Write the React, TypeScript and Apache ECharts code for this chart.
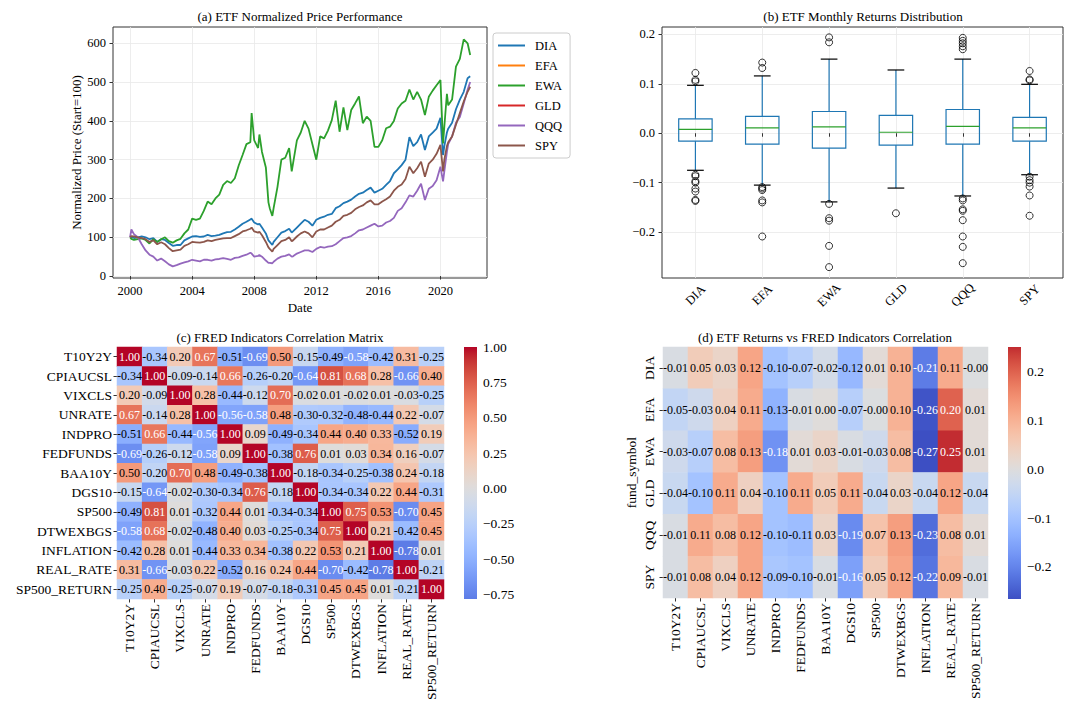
import React, { useEffect, useRef } from 'react';
import * as echarts from 'echarts';

const FONT = '"Liberation Serif", "Times New Roman", "DejaVu Serif", serif';

// ---------- (a) normalized prices ----------
const ETFS = ['DIA', 'EFA', 'EWA', 'GLD', 'QQQ', 'SPY'];
const ETF_COLORS = ['#1f77b4', '#ff7f0e', '#2ca02c', '#d62728', '#9467bd', '#8c564b'];

const DATES = [
  '2000-01', '2000-02', '2000-04', '2000-07', '2000-10',
  '2001-01', '2001-04', '2001-07', '2001-10',
  '2002-01', '2002-04', '2002-07', '2002-10',
  '2003-01', '2003-04', '2003-07', '2003-10',
  '2004-01', '2004-04', '2004-07', '2004-10',
  '2005-01', '2005-04', '2005-07', '2005-10',
  '2006-01', '2006-04', '2006-07', '2006-10',
  '2007-01', '2007-04', '2007-07', '2007-10', '2007-11',
  '2008-01', '2008-04', '2008-05', '2008-07', '2008-10', '2008-12',
  '2009-01', '2009-03', '2009-04', '2009-07', '2009-10',
  '2010-01', '2010-04', '2010-06', '2010-07', '2010-10',
  '2011-01', '2011-04', '2011-07', '2011-10',
  '2012-01', '2012-04', '2012-07', '2012-10',
  '2013-01', '2013-04', '2013-07', '2013-10',
  '2014-01', '2014-04', '2014-07', '2014-10',
  '2015-01', '2015-04', '2015-07', '2015-10',
  '2016-01', '2016-04', '2016-07', '2016-10',
  '2017-01', '2017-04', '2017-07', '2017-10',
  '2018-01', '2018-04', '2018-07', '2018-10',
  '2019-01', '2019-04', '2019-07', '2019-10',
  '2020-01', '2020-03', '2020-04', '2020-06', '2020-07', '2020-10',
  '2021-01', '2021-04', '2021-07', '2021-10', '2021-12',
];

const DIA = [
  100, 101, 98, 100, 102,
  100, 95, 98, 88,
  95, 93, 85, 78,
  80, 80, 92, 97,
  102, 103, 101, 102,
  106, 103, 104, 106,
  110, 113, 114, 120,
  127, 135, 140, 146, 148,
  138, 133, 135, 125, 110, 92,
  88, 80, 88, 100, 112,
  116, 122, 112, 115, 125,
  135, 145, 140, 130,
  145, 150, 153, 158,
  160, 175, 180, 188,
  192, 197, 205, 212,
  215, 222, 228, 215,
  220, 225, 235, 245,
  265, 275, 286, 300,
  358, 335, 345, 365,
  325, 360, 370, 380,
  408, 312, 335, 370, 380, 395,
  430, 455, 475, 510, 515,
];
const EFA: number[] = [];
const EWA = [
  100, 96, 93, 95, 97,
  93, 84, 95, 88,
  95, 100, 90, 86,
  92, 96, 110, 120,
  148, 145, 148, 168,
  192, 185, 200, 210,
  235, 245, 240, 252,
  285, 312, 340, 345, 420,
  350, 330, 365, 320, 280, 190,
  175, 155, 175, 230, 300,
  305, 330, 270, 290, 350,
  370, 400, 380, 340,
  300, 360, 355, 375,
  402, 452, 372, 435,
  376, 428, 445, 463,
  394, 411, 400, 333,
  333, 350, 381, 385,
  400, 432, 445, 452,
  481, 455, 475, 455,
  415, 462, 478, 492,
  505, 342, 385, 470, 440, 455,
  540, 560, 610, 600, 570,
];
const GLD: number[] = [];
const QQQ = [
  100, 120, 108, 100, 82,
  66, 55, 50, 40,
  45, 38, 30, 25,
  28, 32, 35, 38,
  42, 40, 38, 42,
  42, 40, 43, 44,
  46, 44, 42, 47,
  48, 52, 55, 60, 58,
  50, 52, 54, 50, 40, 34,
  34, 33, 37, 45, 50,
  52, 56, 50, 51, 58,
  62, 66, 66, 62,
  70, 75, 73, 76,
  77, 82, 90, 98,
  100, 103, 110, 118,
  120, 125, 130, 135,
  128, 130, 138, 142,
  150, 168, 175, 190,
  208, 205, 220, 238,
  196, 225, 232, 247,
  282, 244, 270, 320, 340, 360,
  395, 410, 445, 480, 500,
];
const SPY = [
  100, 103, 102, 100, 98,
  95, 88, 92, 82,
  87, 82, 72, 64,
  66, 68, 78, 82,
  88, 87, 86, 88,
  92, 90, 93, 95,
  97, 98, 98, 103,
  108, 115, 118, 122, 125,
  115, 112, 114, 105, 88, 74,
  70, 63, 70, 80, 90,
  93, 100, 90, 92, 102,
  110, 115, 110, 100,
  115, 120, 120, 125,
  130, 140, 145, 155,
  158, 163, 172, 178,
  182, 190, 195, 185,
  185, 192, 198, 205,
  220, 230, 236, 250,
  282, 265, 278, 295,
  256, 290, 300, 315,
  338, 270, 300, 335, 345, 360,
  390, 420, 450, 475, 488,
];
const PRICE_SERIES = [DIA, EFA, EWA, GLD, QQQ, SPY];
const YEAR_TICKS = [2000, 2004, 2008, 2012, 2016, 2020];
const PRICE_TICKS = [0, 100, 200, 300, 400, 500, 600];

// ---------- (b) monthly returns boxplot ----------
// [lower whisker, Q1, median, Q3, upper whisker]
const BOX_STATS = [
  [-0.075, -0.016, 0.008, 0.029, 0.097],
  [-0.105, -0.022, 0.011, 0.034, 0.116],
  [-0.139, -0.030, 0.013, 0.044, 0.150],
  [-0.111, -0.024, 0.002, 0.036, 0.128],
  [-0.127, -0.022, 0.014, 0.048, 0.150],
  [-0.084, -0.016, 0.011, 0.032, 0.099],
];
const OUTLIERS = [
  [0.122, 0.108, 0.105, -0.084, -0.087, -0.097, -0.100, -0.112, -0.118, -0.135, -0.137],
  [0.143, 0.132, -0.109, -0.112, -0.115, -0.136, -0.140, -0.209],
  [0.194, 0.184, -0.143, -0.172, -0.177, -0.228, -0.271],
  [-0.162],
  [0.193, 0.187, 0.182, 0.176, 0.170, -0.132, -0.136, -0.154, -0.157, -0.176, -0.209, -0.230, -0.263],
  [0.126, 0.109, 0.107, -0.088, -0.095, -0.100, -0.108, -0.126, -0.167],
];
const RET_TICKS = [-0.2, -0.1, 0, 0.1, 0.2];

// ---------- (c) FRED correlation ----------
const FRED_VARS = ['T10Y2Y', 'CPIAUCSL', 'VIXCLS', 'UNRATE', 'INDPRO', 'FEDFUNDS', 'BAA10Y', 'DGS10', 'SP500', 'DTWEXBGS', 'INFLATION', 'REAL_RATE', 'SP500_RETURN'];
const FRED_CORR = [
  [1.00, -0.34, 0.20, 0.67, -0.51, -0.69, 0.50, -0.15, -0.49, -0.58, -0.42, 0.31, -0.25],
  [-0.34, 1.00, -0.09, -0.14, 0.66, -0.26, -0.20, -0.64, 0.81, 0.68, 0.28, -0.66, 0.40],
  [0.20, -0.09, 1.00, 0.28, -0.44, -0.12, 0.70, -0.02, 0.01, -0.02, 0.01, -0.03, -0.25],
  [0.67, -0.14, 0.28, 1.00, -0.56, -0.58, 0.48, -0.30, -0.32, -0.48, -0.44, 0.22, -0.07],
  [-0.51, 0.66, -0.44, -0.56, 1.00, 0.09, -0.49, -0.34, 0.44, 0.40, 0.33, -0.52, 0.19],
  [-0.69, -0.26, -0.12, -0.58, 0.09, 1.00, -0.38, 0.76, 0.01, 0.03, 0.34, 0.16, -0.07],
  [0.50, -0.20, 0.70, 0.48, -0.49, -0.38, 1.00, -0.18, -0.34, -0.25, -0.38, 0.24, -0.18],
  [-0.15, -0.64, -0.02, -0.30, -0.34, 0.76, -0.18, 1.00, -0.34, -0.34, 0.22, 0.44, -0.31],
  [-0.49, 0.81, 0.01, -0.32, 0.44, 0.01, -0.34, -0.34, 1.00, 0.75, 0.53, -0.70, 0.45],
  [-0.58, 0.68, -0.02, -0.48, 0.40, 0.03, -0.25, -0.34, 0.75, 1.00, 0.21, -0.42, 0.45],
  [-0.42, 0.28, 0.01, -0.44, 0.33, 0.34, -0.38, 0.22, 0.53, 0.21, 1.00, -0.78, 0.01],
  [0.31, -0.66, -0.03, 0.22, -0.52, 0.16, 0.24, 0.44, -0.70, -0.42, -0.78, 1.00, -0.21],
  [-0.25, 0.40, -0.25, -0.07, 0.19, -0.07, -0.18, -0.31, 0.45, 0.45, 0.01, -0.21, 1.00],
];
const C_MIN = -0.78;
const C_MAX = 1.0;
const C_HALF = 1.0;
const C_TICKS = [-0.75, -0.5, -0.25, 0, 0.25, 0.5, 0.75, 1.0];

// ---------- (d) ETF vs FRED correlation ----------
const ETF_CORR = [
  [-0.01, 0.05, 0.03, 0.12, -0.10, -0.07, -0.02, -0.12, 0.01, 0.10, -0.21, 0.11, -0.004],
  [-0.05, -0.03, 0.04, 0.11, -0.13, -0.01, 0.004, -0.07, -0.004, 0.10, -0.26, 0.20, 0.01],
  [-0.03, -0.07, 0.08, 0.13, -0.18, 0.01, 0.03, -0.01, -0.03, 0.08, -0.266, 0.25, 0.01],
  [-0.04, -0.10, 0.11, 0.04, -0.10, 0.11, 0.05, 0.11, -0.04, 0.03, -0.04, 0.12, -0.04],
  [-0.01, 0.11, 0.08, 0.12, -0.10, -0.11, 0.03, -0.19, 0.07, 0.13, -0.23, 0.08, 0.01],
  [-0.01, 0.08, 0.04, 0.12, -0.09, -0.10, -0.01, -0.16, 0.05, 0.12, -0.22, 0.09, -0.01],
];
const D_MIN = -0.266;
const D_MAX = 0.251;
const D_HALF = 0.27;
const D_TICKS = [-0.2, -0.1, 0, 0.1, 0.2];

// ---------- colormap (coolwarm) ----------
const COOLWARM = [
  [59, 76, 192], [68, 90, 204], [77, 104, 215], [87, 117, 225], [98, 130, 234], [108, 142, 241],
  [119, 154, 247], [130, 165, 251], [141, 176, 254], [152, 185, 255], [163, 194, 255], [174, 201, 253],
  [184, 208, 249], [194, 213, 244], [204, 217, 238], [213, 219, 230], [221, 221, 221], [229, 216, 209],
  [236, 211, 197], [241, 204, 185], [245, 196, 173], [247, 187, 160], [247, 177, 148], [247, 166, 135],
  [244, 154, 123], [241, 141, 111], [236, 127, 99], [229, 112, 88], [222, 96, 77], [213, 80, 66],
  [203, 62, 56], [192, 40, 47], [180, 4, 38],
];
function cw(t: number): number[] {
  const tt = Math.max(0, Math.min(1, t)) * (COOLWARM.length - 1);
  const i = Math.min(COOLWARM.length - 2, Math.floor(tt));
  const f = tt - i;
  const a = COOLWARM[i];
  const b = COOLWARM[i + 1];
  return [0, 1, 2].map((k) => Math.round(a[k] + (b[k] - a[k]) * f));
}
function rgb(c: number[]) {
  return `rgb(${c[0]},${c[1]},${c[2]})`;
}
const COOLWARM_CSS = COOLWARM.map(rgb);
function textColorFor(c: number[]) {
  const lin = c.map((v) => {
    const s = v / 255;
    return s <= 0.03928 ? s / 12.92 : Math.pow((s + 0.055) / 1.055, 2.4);
  });
  const L = 0.2126 * lin[0] + 0.7152 * lin[1] + 0.0722 * lin[2];
  return L < 0.408 ? '#ffffff' : '#000000';
}
function minusFmt(v: number, d: number) {
  const s = Math.abs(v).toFixed(d);
  return v < -1e-9 ? '\u2212' + s : s;
}
function toYear(s: string) {
  const [y, m] = s.split('-').map(Number);
  return y + (m - 1) / 12;
}

const TXT = '#000000';
const AX = '#333333';
const GRIDC = '#e8e8e8';

function heatData(matrix: number[][], half: number) {
  const out: any[] = [];
  matrix.forEach((row, r) => {
    row.forEach((v, c) => {
      const col = cw(0.5 + v / (2 * half));
      out.push({
        value: [c, r, v],
        label: { color: textColorFor(col) },
      });
    });
  });
  return out;
}

function colorbarSeries(xi: number, vmin: number, vmax: number, half: number) {
  const stops = Array.from({ length: 41 }, (_, k) => {
    const o = k / 40;
    const v = vmax - o * (vmax - vmin);
    return { offset: o, color: rgb(cw(0.5 + v / (2 * half))) };
  });
  return {
    type: 'custom',
    xAxisIndex: xi,
    yAxisIndex: xi,
    silent: true,
    encode: { x: 0, y: [1, 2] },
    data: [[0, vmin, vmax]],
    renderItem: (params: any, api: any) => {
      const top = api.coord([0, api.value(2)]);
      const bot = api.coord([1, api.value(1)]);
      return {
        type: 'rect',
        shape: { x: top[0], y: top[1], width: bot[0] - top[0], height: bot[1] - top[1] },
        style: { fill: new echarts.graphic.LinearGradient(0, 0, 0, 1, stops) },
      };
    },
  };
}

export default function App() {
  const ref = useRef<HTMLDivElement>(null);
  useEffect(() => {
    document.body.style.margin = '0';
    if (!ref.current) return;
    const chart = echarts.init(ref.current, null, { renderer: 'svg' });

    const tickStyle = { show: true, length: 3.5, lineStyle: { color: AX, width: 1 } };
    const lbl = (size: number) => ({ color: TXT, fontFamily: FONT, fontSize: size });

    const priceSeries = ETFS.map((name, k) => ({
      name,
      type: 'line',
      xAxisIndex: 0,
      yAxisIndex: 0,
      showSymbol: false,
      symbol: 'none',
      data: PRICE_SERIES[k].map((v, i) => [toYear(DATES[i]), v]),
      lineStyle: { color: ETF_COLORS[k], width: 1.8 },
      itemStyle: { color: ETF_COLORS[k] },
      emphasis: { disabled: true },
      z: 2 + k,
    }));

    const outlierData: number[][] = [];
    OUTLIERS.forEach((arr, i) => arr.forEach((v) => outlierData.push([i, v])));

    const option: any = {
      animation: false,
      backgroundColor: '#ffffff',
      textStyle: { fontFamily: FONT },
      title: [
        { text: '(a) ETF Normalized Price Performance', left: 300, top: 10 },
        { text: '(b) ETF Monthly Returns Distribution', left: 863, top: 10 },
        { text: '(c) FRED Indicators Correlation Matrix', left: 280, top: 331 },
        { text: '(d) ETF Returns vs FRED Indicators Correlation', left: 825, top: 331 },
      ].map((t) => ({
        ...t,
        textAlign: 'center',
        padding: 0,
        textStyle: { fontFamily: FONT, fontSize: 13, fontWeight: 'normal', color: TXT },
      })),
      legend: {
        data: ETFS,
        orient: 'vertical',
        left: 493,
        top: 33,
        icon: 'rect',
        itemWidth: 27,
        itemHeight: 2,
        itemGap: 7,
        padding: [6, 8, 6, 5],
        borderColor: '#cccccc',
        borderWidth: 1,
        borderRadius: 3,
        backgroundColor: 'rgba(255,255,255,0.8)',
        textStyle: { fontFamily: FONT, fontSize: 12.5, color: TXT, padding: [0, 0, 0, 5] },
        selectedMode: false,
      },
      visualMap: [
        { type: 'continuous', show: false, seriesIndex: 8, dimension: 2, min: -C_HALF, max: C_HALF, inRange: { color: COOLWARM_CSS } },
        { type: 'continuous', show: false, seriesIndex: 10, dimension: 2, min: -D_HALF, max: D_HALF, inRange: { color: COOLWARM_CSS } },
      ],
      grid: [
        { left: 113, top: 27, width: 374, height: 251, show: true, borderColor: AX, borderWidth: 1, backgroundColor: 'transparent', containLabel: false },
        { left: 662, top: 27, width: 401, height: 251, show: true, borderColor: AX, borderWidth: 1, backgroundColor: 'transparent', containLabel: false },
        { left: 117, top: 347, width: 327, height: 252, containLabel: false },
        { left: 464, top: 347, width: 13, height: 252, containLabel: false },
        { left: 663, top: 347, width: 325, height: 251, containLabel: false },
        { left: 1008, top: 347, width: 13, height: 252, containLabel: false },
      ],
      xAxis: [
        {
          type: 'value', gridIndex: 0, min: 1998.9, max: 2023.0,
          name: 'Date', nameLocation: 'middle', nameGap: 23,
          nameTextStyle: { fontFamily: FONT, fontSize: 13, color: TXT },
          axisLine: { show: false },
          axisTick: { ...tickStyle, customValues: YEAR_TICKS },
          axisLabel: { ...lbl(12.5), margin: 6, customValues: YEAR_TICKS, formatter: (v: number) => String(Math.round(v)) },
          splitLine: { show: true, lineStyle: { color: GRIDC, width: 0.8 } },
        },
        {
          type: 'category', gridIndex: 1, data: ETFS,
          axisLine: { show: false },
          axisTick: { ...tickStyle, alignWithLabel: true },
          axisLabel: { ...lbl(12.5), rotate: 45, align: 'center', verticalAlign: 'middle', margin: 17 },
          splitLine: { show: true, alignWithLabel: true, lineStyle: { color: GRIDC, width: 0.8 } },
        },
        {
          type: 'category', gridIndex: 2, data: FRED_VARS,
          axisLine: { show: false },
          axisTick: { ...tickStyle, alignWithLabel: true },
          axisLabel: { ...lbl(13.5), rotate: 90, margin: 5, interval: 0 },
          splitLine: { show: false },
        },
        { type: 'value', gridIndex: 3, min: 0, max: 1, show: false },
        {
          type: 'category', gridIndex: 4, data: FRED_VARS,
          axisLine: { show: false },
          axisTick: { ...tickStyle, alignWithLabel: true },
          axisLabel: { ...lbl(13.5), rotate: 90, margin: 5, interval: 0 },
          splitLine: { show: false },
        },
        { type: 'value', gridIndex: 5, min: 0, max: 1, show: false },
      ],
      yAxis: [
        {
          type: 'value', gridIndex: 0, min: -5, max: 642,
          name: 'Normalized Price (Start=100)', nameLocation: 'middle', nameGap: 30,
          nameTextStyle: { fontFamily: FONT, fontSize: 13, color: TXT },
          axisLine: { show: false },
          axisTick: { ...tickStyle, customValues: PRICE_TICKS },
          axisLabel: { ...lbl(12.5), margin: 7, customValues: PRICE_TICKS, formatter: (v: number) => String(Math.round(v)) },
          splitLine: { show: true, lineStyle: { color: GRIDC, width: 0.8 } },
        },
        {
          type: 'value', gridIndex: 1, min: -0.293, max: 0.215,
          axisLine: { show: false },
          axisTick: { ...tickStyle, customValues: RET_TICKS },
          axisLabel: { ...lbl(12.5), margin: 7, customValues: RET_TICKS, formatter: (v: number) => minusFmt(v, 1) },
          splitLine: { show: true, lineStyle: { color: GRIDC, width: 0.8 } },
        },
        {
          type: 'category', gridIndex: 2, data: FRED_VARS, inverse: true,
          axisLine: { show: false },
          axisTick: { ...tickStyle, alignWithLabel: true },
          axisLabel: { ...lbl(13.5), margin: 5, interval: 0 },
          splitLine: { show: false },
        },
        {
          type: 'value', gridIndex: 3, min: C_MIN, max: C_MAX, position: 'right',
          axisLine: { show: false },
          axisTick: { ...tickStyle, customValues: C_TICKS },
          axisLabel: { ...lbl(13.5), margin: 6, customValues: C_TICKS, formatter: (v: number) => minusFmt(v, 2) },
          splitLine: { show: false },
        },
        {
          type: 'category', gridIndex: 4, data: ETFS, inverse: true,
          name: 'fund_symbol', nameLocation: 'middle', nameGap: 25,
          nameTextStyle: { fontFamily: FONT, fontSize: 13.5, color: TXT },
          axisLine: { show: false },
          axisTick: { ...tickStyle, alignWithLabel: true },
          axisLabel: { ...lbl(13.5), rotate: 90, margin: 7, interval: 0 },
          splitLine: { show: false },
        },
        {
          type: 'value', gridIndex: 5, min: D_MIN, max: D_MAX, position: 'right',
          axisLine: { show: false },
          axisTick: { ...tickStyle, customValues: D_TICKS },
          axisLabel: { ...lbl(13.5), margin: 6, customValues: D_TICKS, formatter: (v: number) => minusFmt(v, 1) },
          splitLine: { show: false },
        },
      ],
      series: [
        ...priceSeries,
        {
          type: 'custom',
          name: 'box',
          xAxisIndex: 1,
          yAxisIndex: 1,
          silent: true,
          encode: { x: 0, y: [1, 2, 3, 4, 5] },
          data: BOX_STATS.map((s, i) => [i, ...s]),
          renderItem: (params: any, api: any) => {
            const i = api.value(0);
            const lo = api.coord([i, api.value(1)]);
            const q1 = api.coord([i, api.value(2)]);
            const md = api.coord([i, api.value(3)]);
            const q3 = api.coord([i, api.value(4)]);
            const hi = api.coord([i, api.value(5)]);
            const bw = api.size([1, 0])[0] * 0.5;
            const cx = q1[0];
            const blue = { stroke: '#1f77b4', lineWidth: 1.2, fill: 'none' };
            const black = { stroke: '#000000', lineWidth: 1.2 };
            return {
              type: 'group',
              children: [
                { type: 'line', shape: { x1: cx, y1: q3[1], x2: cx, y2: hi[1] }, style: blue },
                { type: 'line', shape: { x1: cx, y1: q1[1], x2: cx, y2: lo[1] }, style: blue },
                { type: 'line', shape: { x1: cx - bw / 4, y1: hi[1], x2: cx + bw / 4, y2: hi[1] }, style: black },
                { type: 'line', shape: { x1: cx - bw / 4, y1: lo[1], x2: cx + bw / 4, y2: lo[1] }, style: black },
                { type: 'rect', shape: { x: cx - bw / 2, y: q3[1], width: bw, height: q1[1] - q3[1] }, style: { stroke: '#1f77b4', lineWidth: 1.2, fill: 'rgba(0,0,0,0)' } },
                { type: 'line', shape: { x1: cx - bw / 2, y1: md[1], x2: cx + bw / 2, y2: md[1] }, style: { stroke: '#2ca02c', lineWidth: 1.2 } },
              ],
            };
          },
        },
        {
          type: 'scatter',
          name: 'outliers',
          xAxisIndex: 1,
          yAxisIndex: 1,
          symbol: 'circle',
          symbolSize: 7,
          silent: true,
          data: outlierData,
          itemStyle: { color: 'rgba(0,0,0,0)', borderColor: '#000000', borderWidth: 1 },
          z: 5,
        },
        {
          type: 'heatmap',
          xAxisIndex: 2,
          yAxisIndex: 2,
          data: heatData(FRED_CORR, C_HALF),
          label: { show: true, fontFamily: FONT, fontSize: 12, formatter: (p: any) => p.value[2].toFixed(2) },
          emphasis: { disabled: true },
          silent: true,
        },
        colorbarSeries(3, C_MIN, C_MAX, C_HALF),
        {
          type: 'heatmap',
          xAxisIndex: 4,
          yAxisIndex: 4,
          data: heatData(ETF_CORR, D_HALF),
          label: { show: true, fontFamily: FONT, fontSize: 12, formatter: (p: any) => p.value[2].toFixed(2) },
          emphasis: { disabled: true },
          silent: true,
        },
        colorbarSeries(5, D_MIN, D_MAX, D_HALF),
      ],
    };
    chart.setOption(option);
    return () => chart.dispose();
  }, []);
  return <div ref={ref} style={{ width: 1065, height: 709 }} />;
}
